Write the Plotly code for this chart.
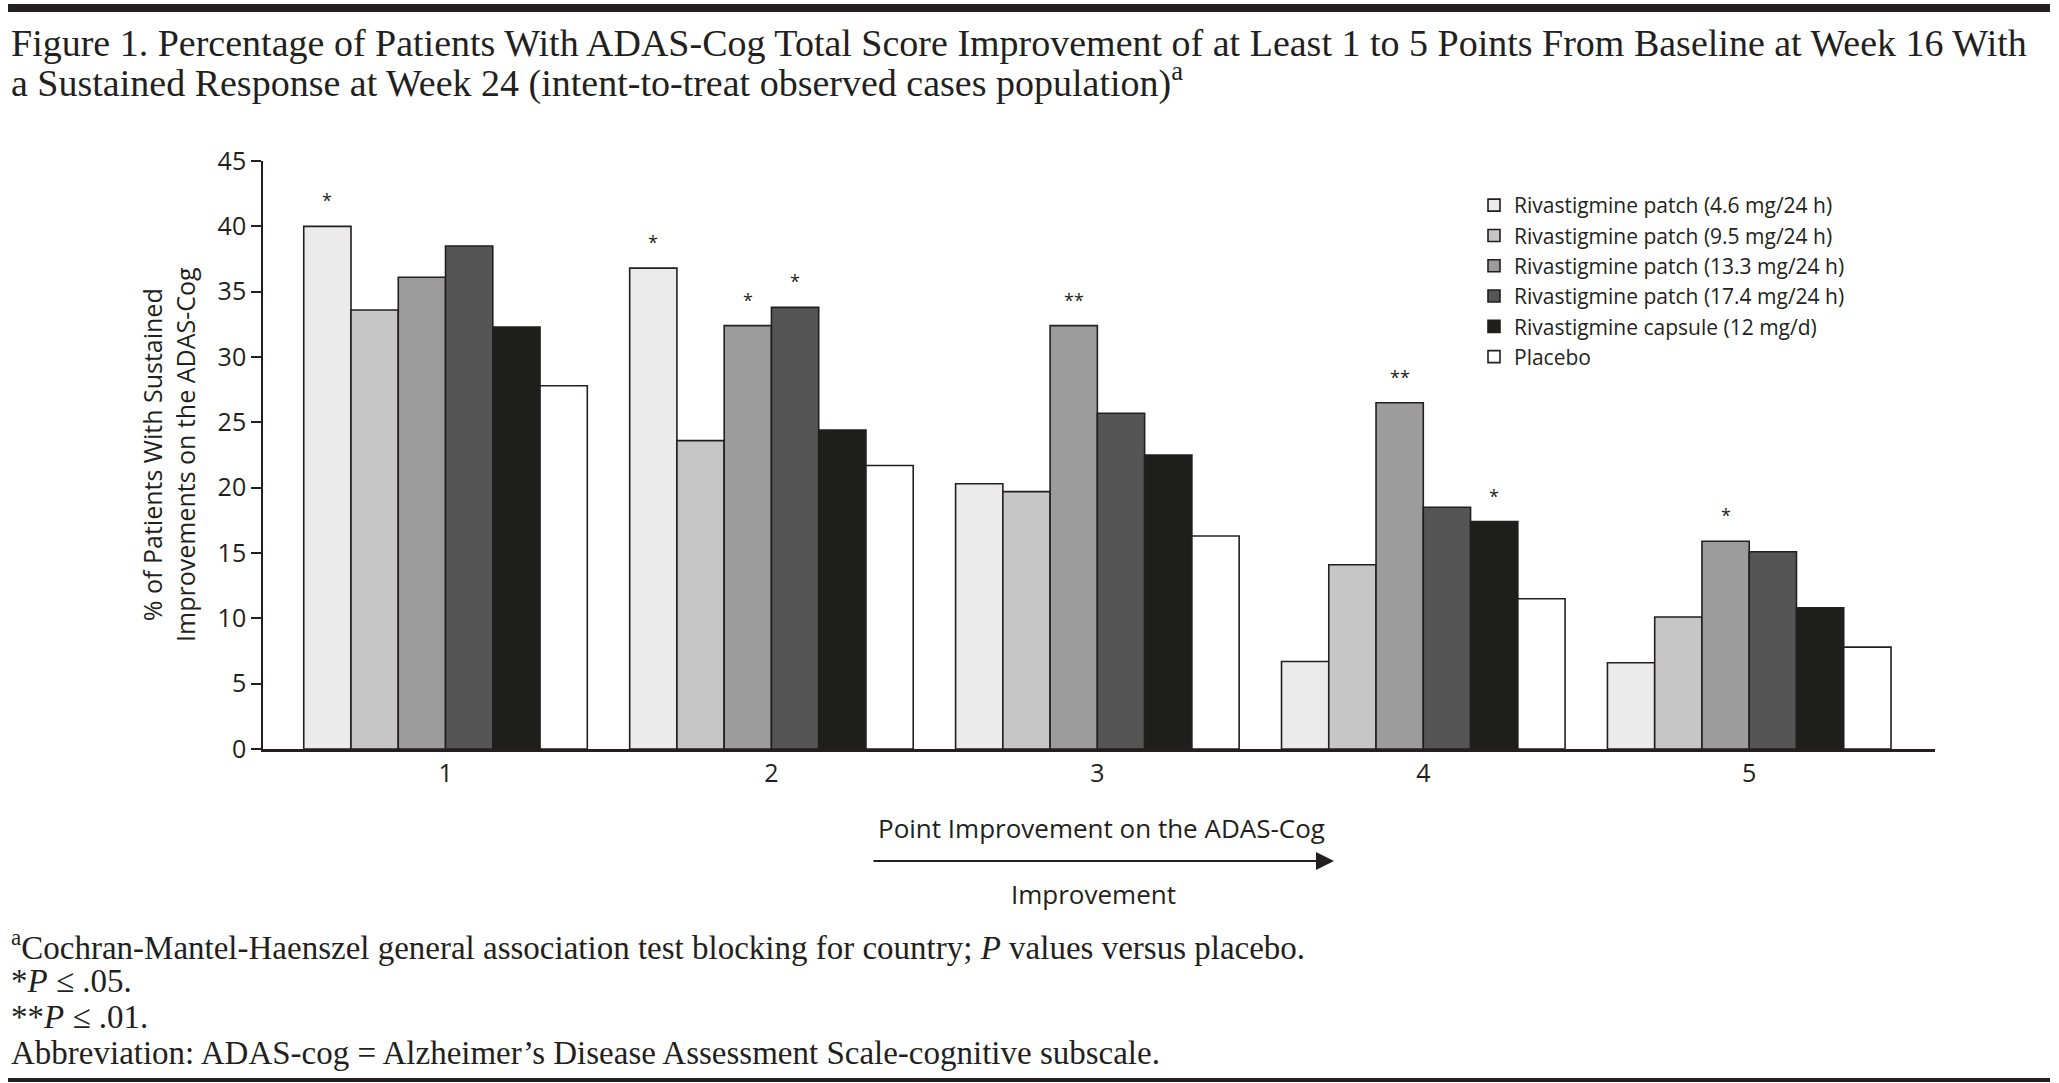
import plotly.graph_objects as go

# ---------------- data ----------------
categories = ["1", "2", "3", "4", "5"]
series_names = [
    "Rivastigmine patch (4.6 mg/24 h)",
    "Rivastigmine patch (9.5 mg/24 h)",
    "Rivastigmine patch (13.3 mg/24 h)",
    "Rivastigmine patch (17.4 mg/24 h)",
    "Rivastigmine capsule (12 mg/d)",
    "Placebo",
]
patch_4_6 = [40.0, 36.8, 20.3, 6.7, 6.6]
patch_9_5 = [33.6, 23.6, 19.7, 14.1, 10.1]
patch_13_3 = [36.1, 32.4, 32.4, 26.5, 15.9]
patch_17_4 = [38.5, 33.8, 25.7, 18.5, 15.1]
capsule_12 = [32.3, 24.4, 22.5, 17.4, 10.8]
placebo = [27.8, 21.7, 16.3, 11.5, 7.8]

sig_4_6 = ["*", "*", "", "", ""]
sig_9_5 = ["", "", "", "", ""]
sig_13_3 = ["", "*", "**", "**", "*"]
sig_17_4 = ["", "*", "", "", ""]
sig_capsule = ["", "", "", "*", ""]
sig_placebo = ["", "", "", "", ""]

y_ticks = [0, 5, 10, 15, 20, 25, 30, 35, 40, 45]

colors = ["#ebebeb", "#c6c6c6", "#9d9c9c", "#555555", "#1e1e1c", "#ffffff"]
all_values = [patch_4_6, patch_9_5, patch_13_3, patch_17_4, capsule_12, placebo]
all_sig = [sig_4_6, sig_9_5, sig_13_3, sig_17_4, sig_capsule, sig_placebo]

INK = "#231f20"
SANS = "Open Sans"
SERIF = "Liberation Serif"

W, H = 2059, 1083
L, R, T, B = 263, 124, 161, 334
PW, PH = W - L - R, H - T - B


def px(x):
    return (x - L) / PW


def py(y):
    return (H - B - y) / PH


BARGAP = 0.13

fig = go.Figure()
for name, vals, col in zip(series_names, all_values, colors):
    fig.add_trace(go.Bar(
        x=categories, y=vals, name=name,
        marker=dict(color=col, line=dict(color=INK, width=1.6)),
    ))

annotations = []
n = len(series_names)
w = (1 - BARGAP) / n
for j, (vals, sig) in enumerate(zip(all_values, all_sig)):
    for i, (v, s) in enumerate(zip(vals, sig)):
        if s:
            annotations.append(dict(
                x=i + (j - (n - 1) / 2) * w, y=v, xref="x", yref="y",
                text=s, showarrow=False, yanchor="bottom", yshift=12,
                font=dict(family=SANS, size=18, color=INK),
            ))

# Title (two lines)
annotations.append(dict(
    x=px(9), y=py(43), xref="paper", yref="paper", xanchor="left", yanchor="middle",
    text="Figure 1. Percentage of Patients With ADAS-Cog Total Score Improvement of at Least 1 to 5 Points From Baseline at Week 16 With",
    showarrow=False, font=dict(family=SERIF, size=38, color=INK)))
annotations.append(dict(
    x=px(9), y=py(80), xref="paper", yref="paper", xanchor="left", yanchor="middle",
    text="a Sustained Response at Week 24 (intent-to-treat observed cases population)<sup>a</sup>",
    showarrow=False, font=dict(family=SERIF, size=38, color=INK)))

# Y axis title
annotations.append(dict(
    x=px(168), y=py(455), xref="paper", yref="paper", xanchor="center", yanchor="middle",
    text="% of Patients With Sustained<br>Improvements on the ADAS-Cog", textangle=-90,
    showarrow=False, font=dict(family=SANS, size=25, color=INK)))

# X axis title, arrow, "Improvement"
annotations.append(dict(
    x=px(1101), y=py(828), xref="paper", yref="paper", xanchor="center", yanchor="middle",
    text="Point Improvement on the ADAS-Cog",
    showarrow=False, font=dict(family=SANS, size=26, color=INK)))
annotations.append(dict(
    x=px(1334), y=py(861), xref="paper", yref="paper",
    ax=-(1334 - 872), ay=0, axref="pixel", ayref="pixel",
    text="", showarrow=True, arrowhead=2, arrowsize=1.8, arrowwidth=2, arrowcolor=INK))
annotations.append(dict(
    x=px(1093), y=py(894), xref="paper", yref="paper", xanchor="center", yanchor="middle",
    text="Improvement",
    showarrow=False, font=dict(family=SANS, size=26, color=INK)))

# Footnotes
foot = [
    (945, "<sup>a</sup>Cochran-Mantel-Haenszel general association test blocking for country; <i>P</i> values versus placebo."),
    (981, "*<i>P</i> ≤ .05."),
    (1017, "**<i>P</i> ≤ .01."),
    (1053, "Abbreviation: ADAS-cog = Alzheimer’s Disease Assessment Scale-cognitive subscale."),
]
for yy, t in foot:
    annotations.append(dict(
        x=px(9), y=py(yy), xref="paper", yref="paper", xanchor="left", yanchor="middle",
        text=t, showarrow=False, font=dict(family=SERIF, size=33, color=INK)))

shapes = [
    dict(type="line", xref="paper", yref="paper", x0=px(8), x1=px(2050), y0=py(8), y1=py(8),
         line=dict(color=INK, width=8)),
    dict(type="line", xref="paper", yref="paper", x0=px(8), x1=px(2050), y0=py(1080), y1=py(1080),
         line=dict(color=INK, width=4)),
]

fig.update_layout(
    width=W, height=H,
    margin=dict(l=L, r=R, t=T, b=B, pad=0),
    paper_bgcolor="white", plot_bgcolor="white",
    barmode="group", bargap=BARGAP, bargroupgap=0,
    showlegend=True,
    legend=dict(x=px(1474), y=py(185), xanchor="left", yanchor="top",
                font=dict(family=SANS, size=21, color=INK), bgcolor="rgba(0,0,0,0)",
                traceorder="normal", tracegroupgap=0),
    annotations=annotations, shapes=shapes,
    font=dict(family=SANS, color=INK),
    xaxis=dict(type="category", range=[-0.56, 4.57], showline=True, linecolor=INK, linewidth=2.5,
               ticks="", showgrid=False, zeroline=False,
               tickfont=dict(family=SANS, size=25, color=INK)),
    yaxis=dict(range=[0, 45], tickvals=y_ticks, showline=True, linecolor=INK, linewidth=1.6,
               ticks="outside", ticklen=10, tickwidth=1.6, tickcolor=INK, showgrid=False, zeroline=False,
               tickfont=dict(family=SANS, size=25, color=INK)),
)

fig.write_html("out.html", config={"displayModeBar": False},
               post_script="document.body.style.margin='0';")
